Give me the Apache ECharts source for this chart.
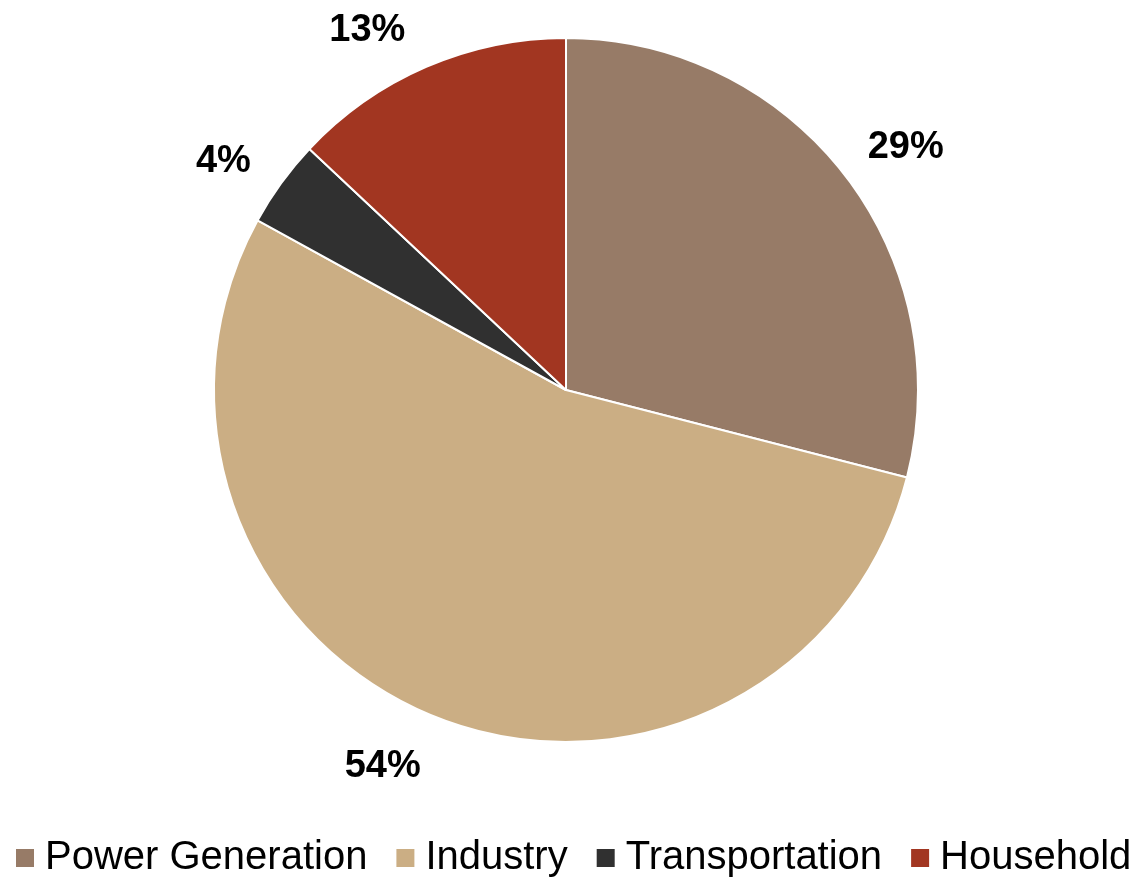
<!DOCTYPE html>
<html style="height: 100%">
<head>
    <meta charset="utf-8">
    <script src="https://cdn.jsdelivr.net/npm/echarts@6/dist/echarts.min.js"></script>
</head>
<body style="height: 100%; margin: 0; background: #fff">
<div id="container" style="width: 1133px; height: 885px"></div>
<script type="text/javascript">
var categories = ['Power Generation', 'Industry', 'Transportation', 'Household'];
var shares = [29, 54, 4, 13];
var colors = ['#977B67', '#CBAE84', '#303030', '#A23621'];

var myChart = echarts.init(document.getElementById('container'));

// small nudges so the outside labels sit where the original put them
var labelNudge = {
    'Power Generation': [-13, -2],
    'Industry': [4, 12],
    'Transportation': [7, 2]
};

var pieData = categories.map(function (name, i) {
    var item = { name: name, value: shares[i], itemStyle: { color: colors[i] } };
    if (labelNudge[name]) {
        item.label = { offset: labelNudge[name] };
    }
    return item;
});

var font = '"Liberation Sans", Arial, sans-serif';

var option = {
    animation: false,
    textStyle: { fontFamily: font },
    legend: {
        top: 838,
        left: 14,
        width: 1125,
        padding: 0,
        icon: 'rect',
        itemWidth: 20,
        itemHeight: 20,
        itemGap: 27,
        textStyle: {
            fontSize: 40,
            lineHeight: 40,
            color: '#000',
            fontFamily: font,
            padding: [0, 0, 0, 5]
        },
        data: categories
    },
    series: [{
        type: 'pie',
        center: [566, 390],
        radius: 352,
        startAngle: 90,
        clockwise: true,
        itemStyle: { borderColor: '#fff', borderWidth: 2 },
        label: {
            show: true,
            position: 'outside',
            formatter: '{c}%',
            fontSize: 38,
            fontWeight: 'bold',
            color: '#000',
            fontFamily: font
        },
        labelLine: { show: false, length: 40, length2: 0 },
        emphasis: { disabled: true },
        data: pieData
    }]
};

myChart.setOption(option);
</script>
</body>
</html>
